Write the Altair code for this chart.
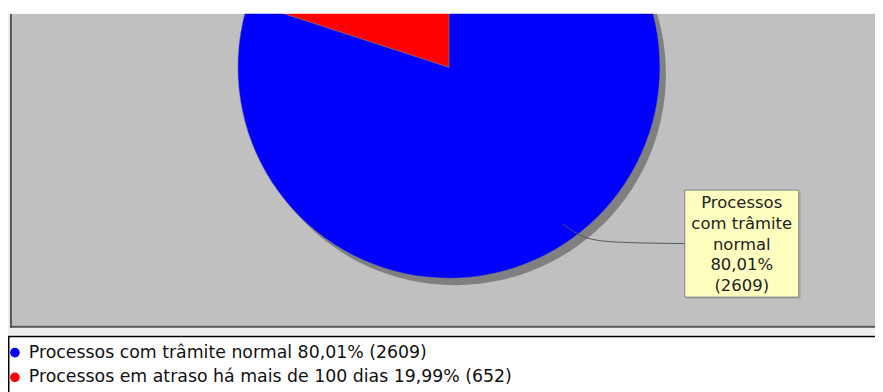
import altair as alt
import pandas as pd
import numpy as np

# ---- data ----
categories = ["Processos com trâmite normal", "Processos em atraso há mais de 100 dias"]
values = [2609, 652]
colors = ["#0000FF", "#FF0000"]
first_label_words = ["Processos", "com trâmite", "normal"]  # wrapped name of the labelled slice

total = sum(values)
pct = [v / total * 100 for v in values]
pct_txt = [f"{p:.2f}".replace(".", ",") + "%" for p in pct]

# ---- layout ----
W, H = 875, 384
CX, CY, R = 445, 58, 213
FONT = "DejaVu Sans"
FS = 17.2
BOX_X0, BOX_X1, BOX_Y0, BOX_Y1 = 683, 798, 182, 290
LEG_Y0, LEG_DY = 346, 25
LH = 20.75

pie_df = pd.DataFrame({
    "cat": categories,
    "value": values,
    "idx": list(range(len(values))),
    "legend": [f"{c} {p} ({v})" for c, p, v in zip(categories, pct_txt, values)],
})

one = alt.Data(values=[{"a": 1}])


def rect(x, x2, y, y2, fill, **kw):
    return alt.Chart(one).mark_rect(fill=fill, **kw).encode(
        x=alt.value(x), x2=alt.value(x2), y=alt.value(y), y2=alt.value(y2)
    )


# background panels
outer = rect(0, W, 4, 328, "#EEEEEE")
left_line = rect(2, 4, 4, 321, "#555555")
plot_bg = rect(4, W, 4, 319, "#C0C0C0")
bottom_line = rect(2, W, 319, 321, "#555555")

theta = alt.Theta("value:Q", stack=True)
order = alt.Order("idx:Q")

shadow = alt.Chart(pie_df).mark_arc(outerRadius=R, fill="#808080").encode(
    theta=theta, order=order, x=alt.value(CX + 6), y=alt.value(CY + 7)
)

pie = alt.Chart(pie_df).mark_arc(outerRadius=R, stroke="#808080", strokeWidth=0.5).encode(
    theta=theta,
    order=order,
    color=alt.Color("cat:N", scale=alt.Scale(domain=categories, range=colors), legend=None),
    x=alt.value(CX),
    y=alt.value(CY),
)

top_white = rect(0, W, -10, 4, "#FFFFFF")

# connector curve for the labelled slice (derived from slice mid-angle)
mid = values[0] / total * np.pi
ux, uy = np.sin(mid), -np.cos(mid)
p0 = np.array([CX + 0.92 * R * ux, CY + 0.92 * R * uy])
el = np.array([CX + 1.06 * R * ux + 8, CY + 1.06 * R * uy - 6])
p3 = np.array([BOX_X0, (BOX_Y0 + BOX_Y1) / 2])
t = np.linspace(0, 1, 40)[:, None]
curve = (1 - t) ** 3 * p0 + 3 * (1 - t) ** 2 * t * el + 3 * (1 - t) * t ** 2 * el + t ** 3 * p3
curve_df = pd.DataFrame({"x": curve[:, 0], "y": curve[:, 1], "i": range(len(curve))})
connector = alt.Chart(curve_df).mark_line(color="#555555", strokeWidth=1).encode(
    x=alt.X("x:Q", scale=None), y=alt.Y("y:Q", scale=None), order="i:Q"
)

label_lines = first_label_words + [pct_txt[0], f"({values[0]})"]
label_shadow = rect(BOX_X0 + 2, BOX_X1 + 2, BOX_Y0 + 2, BOX_Y1 + 2, "#979797", opacity=0.5)
label_box = rect(BOX_X0, BOX_X1, BOX_Y0, BOX_Y1, "#FFFFC0", stroke="#808080", strokeWidth=1)
label_text_df = pd.DataFrame({"t": ["\n".join(label_lines)]})
label_text = alt.Chart(label_text_df).mark_text(
    font=FONT, fontSize=FS - 0.6, lineBreak="\n", lineHeight=LH, align="center", baseline="middle",
    color="#222222",
).encode(
    x=alt.value((BOX_X0 + BOX_X1) / 2),
    y=alt.value((BOX_Y0 + BOX_Y1) / 2 - (len(label_lines) - 1) / 2 * LH + 1),
    text="t:N",
)

legend_box = rect(0.75, W + 5, 329.75, H + 5, "#FFFFFF", stroke="#000000", strokeWidth=1.5)

leg_base = alt.Chart(pie_df).transform_calculate(ly=f"{LEG_Y0} + datum.idx * {LEG_DY}")
leg_dots = leg_base.mark_circle(size=95, opacity=1).encode(
    x=alt.value(7),
    y=alt.Y("ly:Q", scale=None),
    color=alt.Color("cat:N", scale=alt.Scale(domain=categories, range=colors), legend=None),
)
leg_text = leg_base.mark_text(
    font=FONT, fontSize=FS + 0.3, align="left", baseline="middle", color="#111111"
).encode(x=alt.value(21), y=alt.Y("ly:Q", scale=None), text="legend:N")

chart = alt.layer(
    outer, left_line, plot_bg, bottom_line, shadow, pie, top_white, connector,
    label_shadow, label_box, label_text, legend_box, leg_dots, leg_text,
).properties(
    width=W, height=H, padding=0, autosize=alt.AutoSizeParams(type="none")
).configure_view(stroke=None)

chart.save("out.html", embed_options={"renderer": "svg", "actions": False})
